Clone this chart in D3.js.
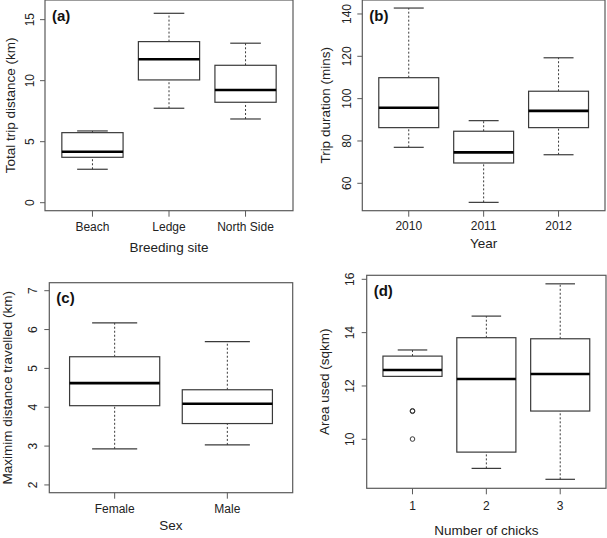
<!DOCTYPE html>
<html><head><meta charset="utf-8">
<script src="https://cdn.jsdelivr.net/npm/d3@7"></script>
<style>body{margin:0;background:#fff}svg{display:block;font-family:"Liberation Sans",Arial,Helvetica,sans-serif}</style>
</head><body>
<svg id="chart" width="607" height="538"></svg>
<script>
// ---- Data ----
// each stat: [lower whisker, Q1, median, Q3, upper whisker]
const siteCategories = ["Beach", "Ledge", "North Side"];
const siteStats = [
  [2.74, 3.72, 4.18, 5.74, 5.88],
  [7.74, 10.06, 11.75, 13.2, 15.52],
  [6.86, 8.23, 9.24, 11.26, 13.07]
];
const siteTicks = [0, 5, 10, 15];

const yearCategories = ["2010", "2011", "2012"];
const yearStats = [
  [77.0, 86.3, 95.7, 109.9, 142.8],
  [51.0, 69.6, 74.6, 84.6, 89.6],
  [73.5, 86.3, 94.2, 103.5, 119.3]
];
const yearTicks = [60, 80, 100, 120, 140];

const sexCategories = ["Female", "Male"];
const sexStats = [
  [2.93, 4.04, 4.62, 5.30, 6.17],
  [3.03, 3.58, 4.09, 4.45, 5.69]
];
const sexTicks = [2, 3, 4, 5, 6, 7];

const chickCategories = ["1", "2", "3"];
const chickStats = [
  [12.36, 12.36, 12.6, 13.12, 13.35],
  [8.91, 9.52, 12.26, 13.81, 14.62],
  [8.5, 11.06, 12.45, 13.77, 15.83]
];
const chickOutliers = [[11.05, 11.07, 10.01], [], []];
const chickTicks = [10, 12, 14, 16];

// ---- Panels ----
const panels = [
  {tag:"(a)", cats:siteCategories, stats:siteStats, ticks:siteTicks, outliers:null,
   yDomain:[-0.656, 16.61], xTitle:"Breeding site", yTitle:"Total trip distance (km)",
   box:{l:45, r:293, t:0, b:210.7}, tickLabX:30, titleX:10, tickLabDy:16, xTitleDy:37},
  {tag:"(b)", cats:yearCategories, stats:yearStats, ticks:yearTicks, outliers:null,
   yDomain:[47.06, 146.6], xTitle:"Year", yTitle:"Trip duration (mins)",
   box:{l:362.3, r:605, t:0, b:210.7}, tickLabX:346.5, titleX:325, tickLabDy:15.5, xTitleDy:33},
  {tag:"(c)", cats:sexCategories, stats:sexStats, ticks:sexTicks, outliers:null,
   yDomain:[1.80, 7.206], xTitle:"Sex", yTitle:"Maximim distance travelled (km)",
   box:{l:49.3, r:292.7, t:282.7, b:492.7}, tickLabX:33.3, titleX:7.5, tickLabDy:16, xTitleDy:32.6},
  {tag:"(d)", cats:chickCategories, stats:chickStats, ticks:chickTicks, outliers:chickOutliers,
   yDomain:[8.163, 16.15], xTitle:"Number of chicks", yTitle:"Area used (sqkm)",
   box:{l:366.7, r:606, t:275.3, b:488.3}, tickLabX:350, titleX:324, tickLabDy:18, xTitleDy:41.7}
];

const svg = d3.select("#chart");
const boxCol = "#3a3a3a", frameCol = "#5a5a5a";

panels.forEach(p => {
  const n = p.cats.length;
  const pad = 0.04 * n;
  const x = d3.scaleLinear().domain([0.5 - pad, n + 0.5 + pad]).range([p.box.l, p.box.r]);
  const y = d3.scaleLinear().domain(p.yDomain).range([p.box.b, p.box.t]);
  const g = svg.append("g");
  const unit = x(2) - x(1);
  const bw = unit * 0.8;

  // frame
  g.append("rect").attr("x", p.box.l).attr("y", p.box.t)
    .attr("width", p.box.r - p.box.l).attr("height", p.box.b - p.box.t)
    .attr("fill", "none").attr("stroke", frameCol).attr("stroke-width", 1.2);

  // y axis ticks
  const ya = g.append("g");
  p.ticks.forEach(t => {
    ya.append("line").attr("x1", p.box.l - 5).attr("x2", p.box.l)
      .attr("y1", y(t)).attr("y2", y(t)).attr("stroke", frameCol);
    ya.append("text").text(t)
      .attr("transform", `translate(${p.tickLabX},${y(t)}) rotate(-90)`)
      .attr("text-anchor", "middle").attr("dominant-baseline", "central")
      .attr("font-size", 12).attr("fill", "#222");
  });
  // x axis ticks
  p.cats.forEach((c, i) => {
    const cx = x(i + 1);
    g.append("line").attr("x1", cx).attr("x2", cx).attr("y1", p.box.b).attr("y2", p.box.b + 6).attr("stroke", frameCol);
    g.append("text").text(c).attr("x", cx).attr("y", p.box.b + p.tickLabDy)
      .attr("text-anchor", "middle").attr("dominant-baseline", "central")
      .attr("font-size", 12).attr("fill", "#222");
  });
  // titles
  g.append("text").text(p.xTitle).attr("x", (p.box.l + p.box.r) / 2).attr("y", p.box.b + p.xTitleDy)
    .attr("text-anchor", "middle").attr("dominant-baseline", "central").attr("font-size", 13.5).attr("fill", "#222");
  g.append("text").text(p.yTitle)
    .attr("transform", `translate(${p.titleX},${(p.box.t + p.box.b) / 2}) rotate(-90)`)
    .attr("text-anchor", "middle").attr("dominant-baseline", "central").attr("font-size", 13.5).attr("fill", "#222");
  // tag
  g.append("text").text(p.tag).attr("x", p.box.l + 7).attr("y", p.box.t + 15)
    .attr("dominant-baseline", "central").attr("font-size", 15).attr("font-weight", "bold").attr("fill", "#111");

  // boxes
  p.stats.forEach((s, i) => {
    const cx = x(i + 1);
    const [lo, q1, med, q3, hi] = s;
    // whiskers
    [[lo, q1], [q3, hi]].forEach(([a, b]) => {
      g.append("line").attr("x1", cx).attr("x2", cx).attr("y1", y(a)).attr("y2", y(b))
        .attr("stroke", boxCol).attr("stroke-dasharray", "2,2");
    });
    [lo, hi].forEach(v => {
      g.append("line").attr("x1", cx - bw / 4).attr("x2", cx + bw / 4).attr("y1", y(v)).attr("y2", y(v))
        .attr("stroke", boxCol).attr("stroke-width", 1.2);
    });
    g.append("rect").attr("x", cx - bw / 2).attr("y", y(q3)).attr("width", bw).attr("height", y(q1) - y(q3))
      .attr("fill", "#fff").attr("stroke", boxCol).attr("stroke-width", 1.2);
    g.append("line").attr("x1", cx - bw / 2).attr("x2", cx + bw / 2).attr("y1", y(med)).attr("y2", y(med))
      .attr("stroke", "#000").attr("stroke-width", 2.6);
    if (p.outliers) {
      p.outliers[i].forEach(v => {
        g.append("circle").attr("cx", cx).attr("cy", y(v)).attr("r", 2.3)
          .attr("fill", "none").attr("stroke", boxCol).attr("stroke-width", 1);
      });
    }
  });
});
</script>
</body></html>
